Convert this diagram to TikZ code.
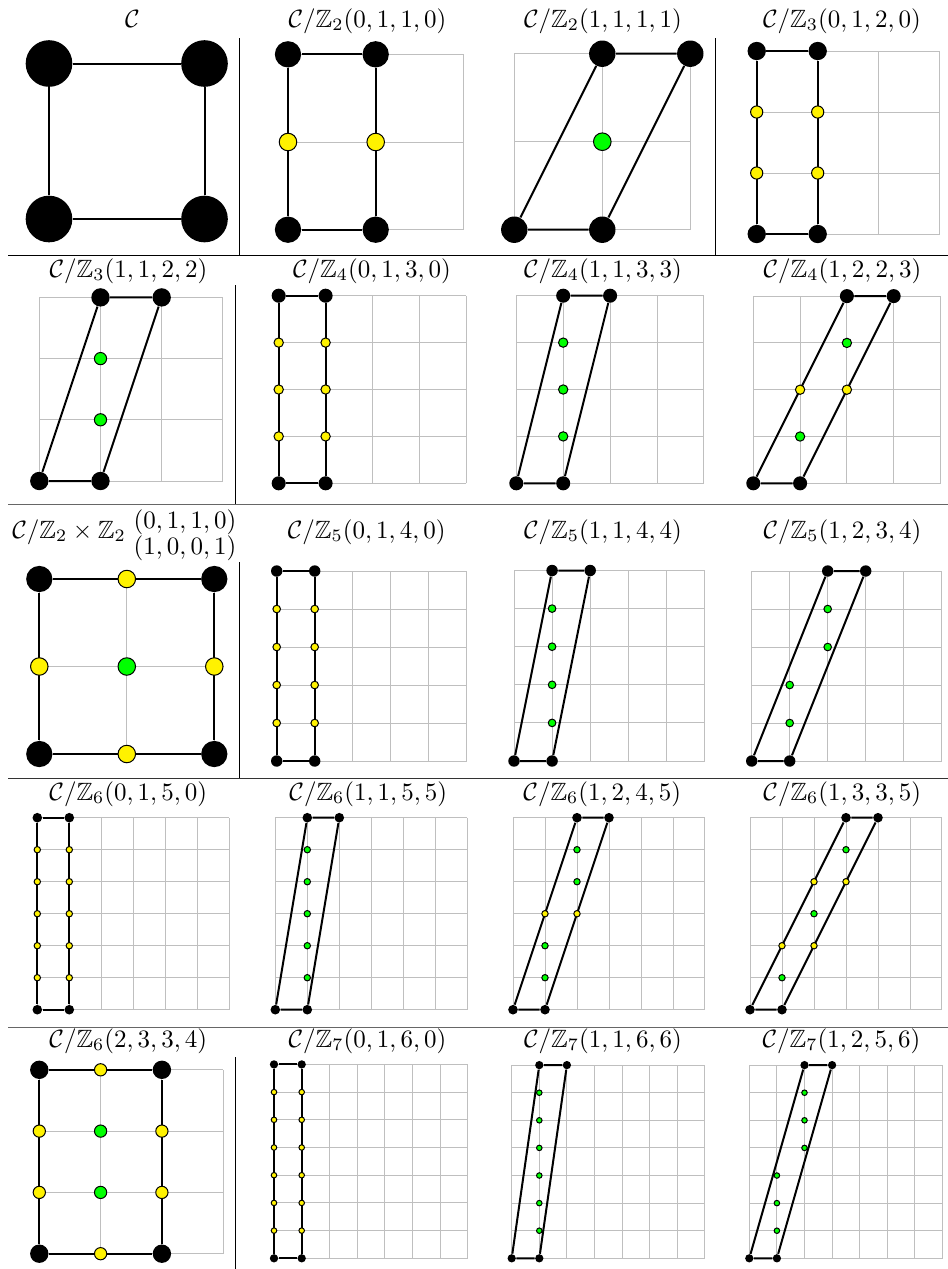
\documentclass[tikz,border=0pt]{standalone}
\usepackage{amssymb}
\tikzset{
  dot/.style={circle,inner sep=0pt,fill=black,minimum size=\rb pt},
  ydot/.style={circle,inner sep=0pt,draw=black,line width=.4pt,fill=yellow,minimum size=\rs pt},
  gdot/.style={ydot,fill=green},
  lat/.style={black!25,line width=.4pt,step=1},
  bnd/.style={black,line width=.8pt},
  rule/.style={line width=.4pt},
  ttl/.style={anchor=base,inner sep=0pt}
}
% cell size in px -> unit, big and small dot sizes
\newcommand\setcell[1]{\pgfmathsetmacro\cellu{#1*.4}\pgfmathsetmacro\rb{.3*\cellu}\pgfmathsetmacro\rs{.2*\cellu}}
% #1 name, #2/#3 origin, #4 cell, #5 order N, #6 shift of the top edge
\newcommand\zquot[6]{%
  \setcell{#4}
  \begin{scope}[shift={(#2,#3)},x=\cellu pt,y=\cellu pt]
    \draw[lat] (0,0) grid (#5,#5);
    \node[dot] (#1a) at (0,0) {};
    \node[dot] (#1b) at (1,0) {};
    \node[dot] (#1c) at (#6+1,#5) {};
    \node[dot] (#1d) at (#6,#5) {};
    \draw[bnd] (#1a) -- (#1b) -- (#1c) -- (#1d) -- (#1a);
    \pgfmathtruncatemacro\Nm{#5-1}
    \foreach \j in {1,...,\Nm}{
      \pgfmathtruncatemacro\rem{mod(\j*#6,#5)}
      \pgfmathtruncatemacro\quo{(\j*#6-\rem)/#5}
      \ifnum\rem=0
        \node[ydot] (#1l\j) at (\quo,\j) {};
        \node[ydot] (#1r\j) at (\quo+1,\j) {};
      \else
        \node[gdot] (#1m\j) at (\quo+1,\j) {};
      \fi}
  \end{scope}}

\begin{document}
\begin{tikzpicture}[x=.4pt,y=-.4pt]
  \useasboundingbox (0,0) rectangle (948,1269);

  % table rules
  \draw[rule] (8,255) -- (948,255);
  \draw[rule,black!60] (8,504) -- (948,504);
  \draw[rule,black!80] (8,778) -- (948,778);
  \draw[rule,black!60] (8,1027) -- (948,1027);
  \draw[rule]
    (239.3,38) -- (239.3,255)
    (715.7,38) -- (715.7,255)
    (235.3,285) -- (235.3,504)
    (239.3,562) -- (239.3,778)
    (235.3,1057) -- (235.3,1269);

  % titles
  \path[ttl]
    (132.5,27) node[ttl] (t1) {$\mathcal{C}$}
    (367.5,27) node[ttl] (t2) {$\mathcal{C}/\mathbb{Z}_2(0,1,1,0)$}
    (603,27)   node[ttl] (t3) {$\mathcal{C}/\mathbb{Z}_2(1,1,1,1)$}
    (842,27)   node[ttl] (t4) {$\mathcal{C}/\mathbb{Z}_3(0,1,2,0)$}
    (128.5,277) node[ttl] (t5) {$\mathcal{C}/\mathbb{Z}_3(1,1,2,2)$}
    (372,277)   node[ttl] (t6) {$\mathcal{C}/\mathbb{Z}_4(0,1,3,0)$}
    (603,277)   node[ttl] (t7) {$\mathcal{C}/\mathbb{Z}_4(1,1,3,3)$}
    (842.5,277) node[ttl] (t8) {$\mathcal{C}/\mathbb{Z}_4(1,2,2,3)$}
    (69,538)    node[ttl] (t9) {$\mathcal{C}/\mathbb{Z}_2\times\mathbb{Z}_2$}
    (366.7,538) node[ttl] (t10) {$\mathcal{C}/\mathbb{Z}_5(0,1,4,0)$}
    (603,538)   node[ttl] (t11) {$\mathcal{C}/\mathbb{Z}_5(1,1,4,4)$}
    (842.5,538) node[ttl] (t12) {$\mathcal{C}/\mathbb{Z}_5(1,2,3,4)$}
    (128.3,800) node[ttl] (t13) {$\mathcal{C}/\mathbb{Z}_6(0,1,5,0)$}
    (368.3,800) node[ttl] (t14) {$\mathcal{C}/\mathbb{Z}_6(1,1,5,5)$}
    (602.3,800) node[ttl] (t15) {$\mathcal{C}/\mathbb{Z}_6(1,2,4,5)$}
    (842.3,800) node[ttl] (t16) {$\mathcal{C}/\mathbb{Z}_6(1,3,3,5)$}
    (128.3,1047) node[ttl] (t17) {$\mathcal{C}/\mathbb{Z}_6(2,3,3,4)$}
    (367.5,1047) node[ttl] (t18) {$\mathcal{C}/\mathbb{Z}_7(0,1,6,0)$}
    (603,1047)   node[ttl] (t19) {$\mathcal{C}/\mathbb{Z}_7(1,1,6,6)$}
    (841.5,1047) node[ttl] (t20) {$\mathcal{C}/\mathbb{Z}_7(1,2,5,6)$};
  \node[align=center,inner sep=0pt,font=\fontsize{10}{10.5}\selectfont] (t9v) at (185,535)
    {$(0,1,1,0)$\\$(1,0,0,1)$};

  % the plain torus
  \setcell{155.5}
  \begin{scope}[shift={(49,219)},x=\cellu pt,y=\cellu pt]
    \node[dot] (p1a) at (0,0) {};
    \node[dot] (p1b) at (1,0) {};
    \node[dot] (p1c) at (1,1) {};
    \node[dot] (p1d) at (0,1) {};
    \draw[bnd] (p1a) -- (p1b) -- (p1c) -- (p1d) -- (p1a);
  \end{scope}

  % Z2 x Z2
  \setcell{87.5}
  \begin{scope}[shift={(39.3,754)},x=\cellu pt,y=\cellu pt]
    \draw[lat] (0,0) grid (2,2);
    \node[dot] (p9a) at (0,0) {};
    \node[dot] (p9b) at (2,0) {};
    \node[dot] (p9c) at (2,2) {};
    \node[dot] (p9d) at (0,2) {};
    \draw[bnd] (p9a) -- (p9b) -- (p9c) -- (p9d) -- (p9a);
    \foreach \p/\n in {(1,0)/s,(2,1)/e,(1,2)/n,(0,1)/w}
      \node[ydot] (p9\n) at \p {};
    \node[gdot] (p9m) at (1,1) {};
  \end{scope}

  % Z6(2,3,3,4)
  \setcell{61.3}
  \begin{scope}[shift={(39.3,1253.7)},x=\cellu pt,y=\cellu pt]
    \draw[lat] (0,0) grid (3,3);
    \node[dot] (p17a) at (0,0) {};
    \node[dot] (p17b) at (2,0) {};
    \node[dot] (p17c) at (2,3) {};
    \node[dot] (p17d) at (0,3) {};
    \draw[bnd] (p17a) -- (p17b) -- (p17c) -- (p17d) -- (p17a);
    \foreach \p/\n in {(1,0)/s,(1,3)/n,(0,1)/w1,(0,2)/w2,(2,1)/e1,(2,2)/e2}
      \node[ydot] (p17\n) at \p {};
    \node[gdot] (p17m1) at (1,1) {};
    \node[gdot] (p17m2) at (1,2) {};
  \end{scope}

  % cyclic quotients
  \zquot{p2}{288}{229.7}{87.7}{2}{0}
  \zquot{p3}{514.3}{229.7}{88}{2}{1}
  \zquot{p4}{756.7}{234}{61}{3}{0}
  \zquot{p5}{39.3}{481}{61.2}{3}{1}
  \zquot{p6}{278.7}{483.3}{46.9}{4}{0}
  \zquot{p7}{516.3}{483.3}{46.9}{4}{1}
  \zquot{p8}{753.3}{483.3}{46.8}{4}{2}
  \zquot{p10}{276.7}{761}{38}{5}{0}
  \zquot{p11}{514}{761}{38.1}{5}{1}
  \zquot{p12}{751.7}{761}{38}{5}{2}
  \zquot{p13}{37.3}{1009.7}{32}{6}{0}
  \zquot{p14}{275.3}{1009.7}{32}{6}{1}
  \zquot{p15}{513}{1009.7}{32}{6}{2}
  \zquot{p16}{750}{1009.7}{32}{6}{3}
  \zquot{p18}{274}{1258.3}{27.7}{7}{0}
  \zquot{p19}{511.7}{1258.3}{27.6}{7}{1}
  \zquot{p20}{749.3}{1258.3}{27.6}{7}{2}
\end{tikzpicture}
\end{document}
